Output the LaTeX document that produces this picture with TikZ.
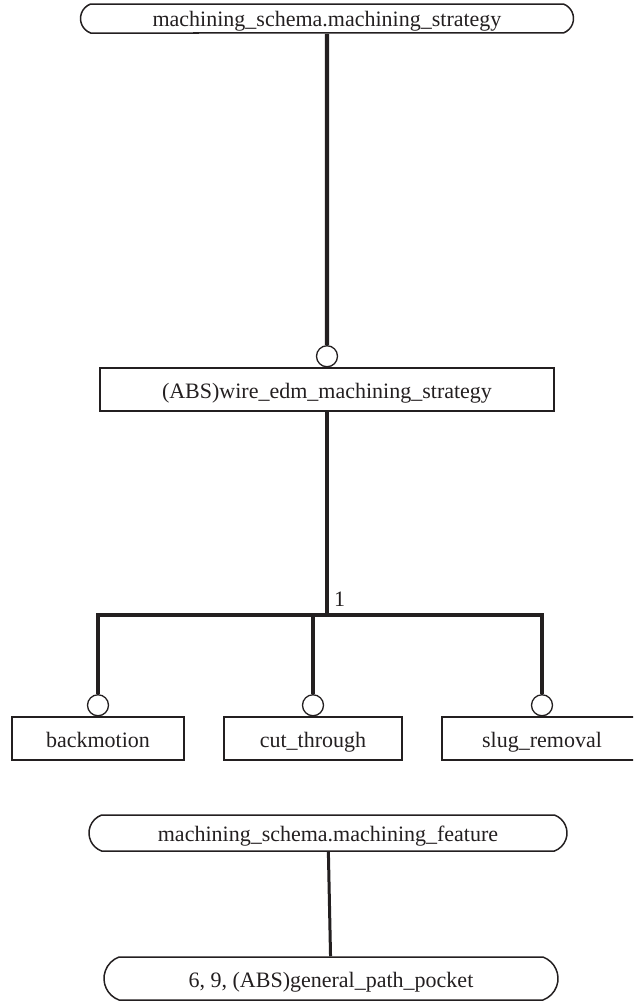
\documentclass[tikz,border=0pt]{standalone}
\usepackage{fontspec}
\setmainfont{Liberation Serif}
\usetikzlibrary{shapes.misc,positioning}
\definecolor{ink}{RGB}{35,31,32}

\begin{document}
\begin{tikzpicture}[x=1pt,y=-1pt]
		\tikzstyle{ref-node}=[draw=ink,text=ink,line width=1.5pt,rounded rectangle,rounded rectangle arc length=140,inner sep=0pt,text height=20pt,text depth=3pt,font=\fontsize{22}{24}\selectfont]
		\tikzstyle{entity-node}=[draw=ink,text=ink,line width=1.2pt,rectangle,inner sep=0pt,minimum height=43pt,text height=20pt,text depth=3pt,font=\fontsize{22}{24}\selectfont]
		\tikzstyle{ring-node}=[draw=ink,fill=white,line width=1.3pt,circle,inner sep=0pt,minimum size=21pt]
		\tikzstyle{rel-link}=[draw=ink,line width=4.3pt]
		\tikzstyle{ref-link}=[draw=ink,line width=3pt]
		\useasboundingbox (0,0) rectangle (633,1001);
		\clip (0,0) rectangle (633,1001);
		% strategy tree
		\node [ref-node,minimum width=493pt,minimum height=29pt] at (327,18.5) (strategy) {machining\_schema.machining\_strategy};
		\node [entity-node,minimum width=454pt] at (327,389.5) (wire) {(ABS)wire\_edm\_machining\_strategy};
		\node [ring-node,above=0pt of wire] (wire-ring) {};
		\node [entity-node,minimum width=172pt] at (98,738.5) (back) {backmotion};
		\node [entity-node,minimum width=178pt] at (313,738.5) (cut) {cut\_through};
		\node [entity-node,minimum width=200pt] at (542,738.5) (slug) {slug\_removal};
		\node [ring-node,above=0pt of back] (back-ring) {};
		\node [ring-node,above=0pt of cut] (cut-ring) {};
		\node [ring-node,above=0pt of slug] (slug-ring) {};
		\coordinate (fork) at (327,615);
		\node [text=ink,inner sep=0pt,anchor=south west,font=\fontsize{22}{24}\selectfont] at (334,607) (card) {1};
		\draw [rel-link] (strategy) -- (wire-ring);
		\draw [rel-link] (wire) -- (fork);
		\draw [rel-link] (back-ring) -- (back-ring |- fork) -- (slug-ring |- fork) -- (slug-ring);
		\draw [rel-link] (cut-ring) -- (cut-ring |- fork);
		% feature reference
		\node [ref-node,minimum width=478pt,minimum height=36pt] at (328,833) (feature) {machining\_schema.machining\_feature};
		\node [ref-node,minimum width=454pt,minimum height=43pt] at (331,978.5) (pocket) {6, 9, (ABS)general\_path\_pocket};
		\draw [ref-link] (feature) -- (pocket);
	\end{tikzpicture}
\end{document}
